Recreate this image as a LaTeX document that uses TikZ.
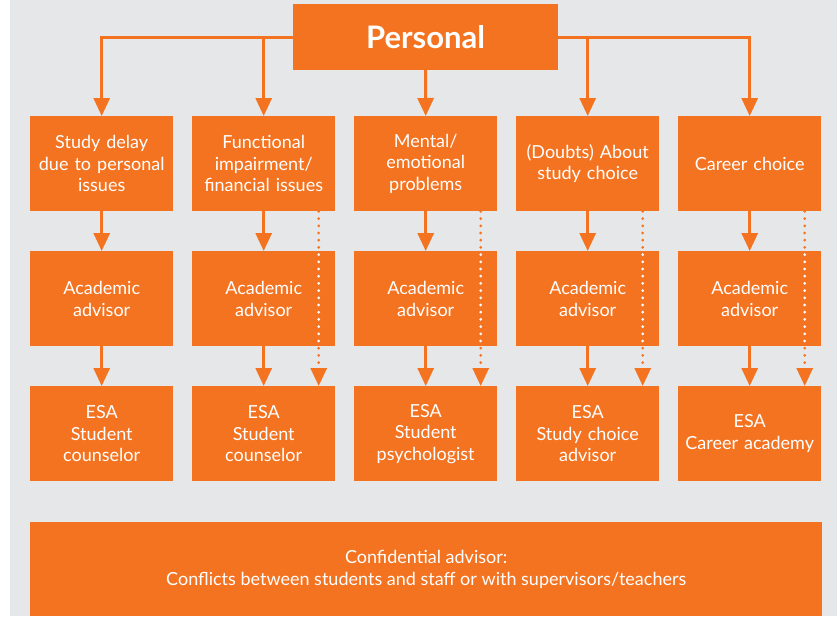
\documentclass[tikz,border=0pt]{standalone}
\usepackage{fontspec}
\setmainfont{Lato}
\usepackage{tikz}
\usetikzlibrary{matrix,arrows.meta,positioning}
\definecolor{esaorange}{HTML}{F47321}
\definecolor{esagray}{HTML}{E6E7E8}

\begin{document}
\begin{tikzpicture}[x=1pt,y=1pt,
  box/.style={fill=esaorange, text=white, align=center, inner sep=0pt,
    font=\fontsize{18}{21.5}\selectfont},
  arr/.style={draw=esaorange, line width=3pt, -{Triangle[width=16pt,length=18pt]}},
  dotarr/.style={arr, line cap=round, dash pattern=on 0pt off 7.2pt}]
  \useasboundingbox (0,0) rectangle (837,-616);
  \fill[esagray] (10,0) rectangle (837,-616);

  \node[box, font=\fontsize{31}{33}\selectfont\bfseries,
    minimum width=265pt, minimum height=66pt] (p) at (425.5,-37) {Personal};

  \matrix (m) [matrix of nodes, anchor=north west, inner sep=0pt,
    row sep=40pt, column sep=19pt,
    nodes={box, anchor=center, minimum width=143pt, minimum height=95pt, text width=143pt}]
    at (30,-116)
  {
    {Study delay\\due to personal\\issues} & {Functional\\impairment/\\financial issues} &
    {Mental/\\emotional\\problems} & {(Doubts) About\\study choice} & {Career choice} \\
    {Academic\\advisor} & {Academic\\advisor} & {Academic\\advisor} &
    {Academic\\advisor} & {Academic\\advisor} \\
    {ESA\\Student\\counselor} & {ESA\\Student\\counselor} & {ESA\\Student\\psychologist} &
    {ESA\\Study choice\\advisor} & {ESA\\Career academy} \\
  };

  \node[box, anchor=north west, minimum width=792pt, minimum height=94pt] (conf)
    at (30,-522) {Confidential advisor:\\Conflicts between students and staff or with supervisors/teachers};

  % from the top box
  \draw[arr] (p.west) -| (m-1-1.north);
  \draw[arr] (p.east) -| (m-1-5.north);
  \draw[arr] (p.west -| m-1-2.north) -- (m-1-2.north);
  \draw[arr] (p.south) -- (m-1-3.north);
  \draw[arr] (p.east -| m-1-4.north) -- (m-1-4.north);

  % down the columns
  \foreach \c in {1,...,5}
  {
    \draw[arr] (m-1-\c) -- (m-2-\c);
    \draw[arr] (m-2-\c) -- (m-3-\c);
  }
  % dotted shortcuts, white where they cross the advisor box
  \foreach \c in {2,...,5}
  {
    \draw[dotarr] ([xshift=55pt]m-1-\c.south) -- ([xshift=55pt]m-3-\c.north);
    \begin{scope}
      \clip (m-2-\c.south west) rectangle (m-2-\c.north east);
      \draw[dotarr, draw=white] ([xshift=55pt]m-1-\c.south) -- ([xshift=55pt]m-3-\c.north);
    \end{scope}
  }
\end{tikzpicture}
\end{document}
